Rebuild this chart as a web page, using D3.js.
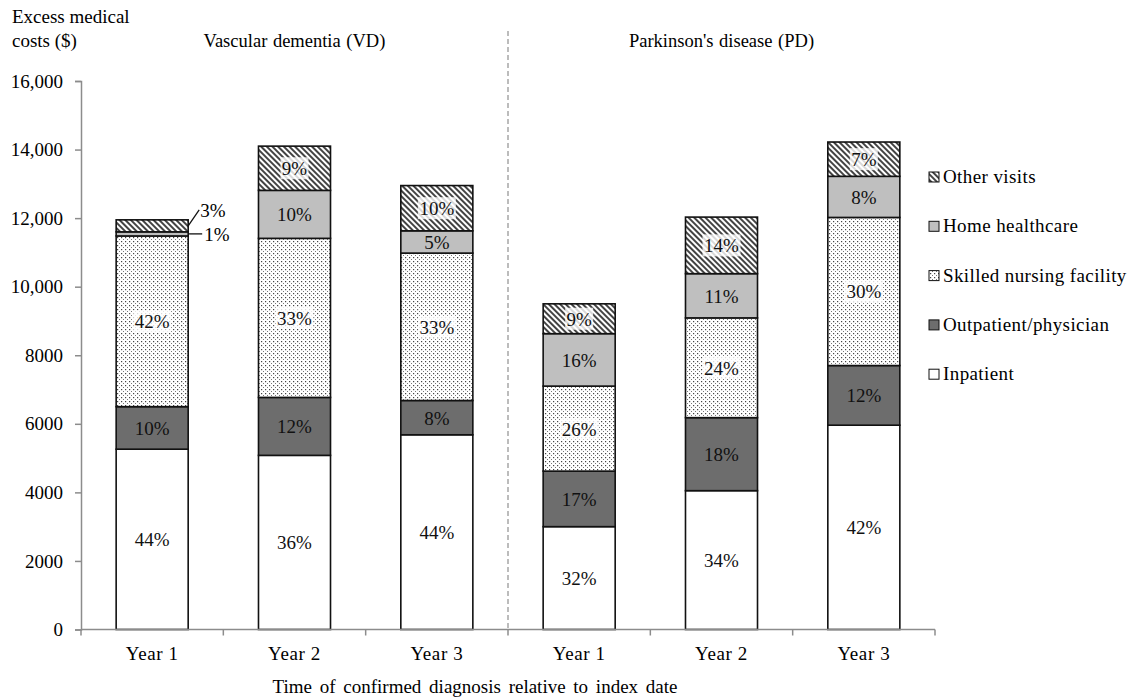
<!DOCTYPE html>
<html>
<head>
<meta charset="utf-8">
<script src="https://cdn.jsdelivr.net/npm/d3@7"></script>
<style>
  html, body { margin: 0; padding: 0; background: #fff; }
  svg { display: block; font-family: "Liberation Serif", "Times New Roman", serif; }
</style>
</head>
<body>
<svg id="chart" width="1131" height="698"></svg>
<script>
// Excess medical costs by year since diagnosis, split by cost component
const yearLabels = ["Year 1", "Year 2", "Year 3", "Year 1", "Year 2", "Year 3"];
const groupTitles = ["Vascular dementia (VD)", "Parkinson's disease (PD)"];
const seriesNames = ["Inpatient", "Outpatient/physician", "Skilled nursing facility", "Home healthcare", "Other visits"];

// Dollar amounts per component (VD Y1..Y3, PD Y1..Y3)
const inpatient      = [5260, 5080, 5680, 3000, 4050, 5960];
const outpatient     = [1240, 1690, 1000, 1620, 2130, 1740];
const skilledNursing = [4980, 4640, 4300, 2480, 2910, 4320];
const homeHealth     = [120, 1400, 650, 1530, 1290, 1200];
const otherVisits    = [350, 1290, 1320, 870, 1650, 1000];

const yTicks = [0, 2000, 4000, 6000, 8000, 10000, 12000, 14000, 16000];

const svg = d3.select("#chart");
const margin = { left: 81, right: 196, top: 81, bottom: 69 };
const W = 1131, H = 698;
const FS = 19;

const rows = yearLabels.map((lab, i) => ({
  key: i, label: lab,
  "Inpatient": inpatient[i],
  "Outpatient/physician": outpatient[i],
  "Skilled nursing facility": skilledNursing[i],
  "Home healthcare": homeHealth[i],
  "Other visits": otherVisits[i]
}));
const totals = rows.map(r => seriesNames.reduce((s, k) => s + r[k], 0));

const x = d3.scaleBand()
  .domain(rows.map(r => r.key))
  .range([margin.left, W - margin.right])
  .paddingInner(0.494)
  .paddingOuter(0.247);

const y = d3.scaleLinear().domain([0, 16000]).range([H - margin.bottom + 0.5, margin.top]);

// Fill patterns
const defs = svg.append("defs");
const dots = defs.append("pattern").attr("id", "dots")
  .attr("patternUnits", "userSpaceOnUse").attr("width", 4).attr("height", 4);
dots.append("rect").attr("width", 4).attr("height", 4).attr("fill", "#fff");
dots.append("rect").attr("x", 1).attr("y", 1).attr("width", 1.2).attr("height", 1.2).attr("fill", "#444");
dots.append("rect").attr("x", 3).attr("y", 3).attr("width", 1.0).attr("height", 1.0).attr("fill", "#777");

const hatch = defs.append("pattern").attr("id", "hatch")
  .attr("patternUnits", "userSpaceOnUse").attr("width", 4).attr("height", 4)
  .attr("patternTransform", "rotate(-45)");
hatch.append("rect").attr("width", 4).attr("height", 4).attr("fill", "#fff");
hatch.append("line").attr("x1", 1).attr("y1", 0).attr("x2", 1).attr("y2", 4)
  .attr("stroke", "#222").attr("stroke-width", 1.7);

const fills = {
  "Inpatient": "#ffffff",
  "Outpatient/physician": "#6d6d6d",
  "Skilled nursing facility": "url(#dots)",
  "Home healthcare": "#bfbfbf",
  "Other visits": "url(#hatch)"
};

// Axes
const axisColor = "#8c8c8c";
const yAxis = svg.append("g").attr("transform", `translate(${margin.left},0)`)
  .call(d3.axisLeft(y).tickValues(yTicks).tickSize(6).tickPadding(12)
    .tickFormat(d => d >= 10000 ? d3.format(",")(d) : String(d)));
yAxis.select(".domain").attr("stroke", axisColor).attr("stroke-width", 1.5);
yAxis.selectAll(".tick line").attr("stroke", axisColor).attr("stroke-width", 1.5);
yAxis.selectAll(".tick text").attr("font-size", FS).attr("fill", "#000")
  .attr("font-family", "Liberation Serif");

const stack = d3.stack().keys(seriesNames);
const layers = stack(rows);

const barG = svg.append("g");
layers.forEach(layer => {
  barG.selectAll(null).data(layer).enter().append("rect")
    .attr("x", d => x(d.data.key))
    .attr("width", x.bandwidth())
    .attr("y", d => y(d[1]))
    .attr("height", d => y(d[0]) - y(d[1]))
    .attr("fill", fills[layer.key])
    .attr("stroke", "#111")
    .attr("stroke-width", 1.6);
});

// X axis line with ticks at band boundaries
const x0 = margin.left, x1 = W - margin.right;
const baseY = y(0);
svg.append("line").attr("x1", x0).attr("x2", x1).attr("y1", baseY).attr("y2", baseY)
  .attr("stroke", axisColor).attr("stroke-width", 1.5);
const step = x.step();
d3.range(7).forEach(i => {
  const tx = x0 + i * step;
  svg.append("line").attr("x1", tx).attr("x2", tx).attr("y1", baseY).attr("y2", baseY + 6)
    .attr("stroke", axisColor).attr("stroke-width", 1.5);
});
svg.append("g").selectAll("text").data(rows).enter().append("text")
  .attr("x", d => x(d.key) + x.bandwidth() / 2)
  .attr("y", baseY + 30)
  .attr("text-anchor", "middle")
  .attr("font-size", FS)
  .attr("letter-spacing", 0.6)
  .text(d => d.label);

// Divider between the two diseases
svg.append("line").attr("x1", x0 + 3 * step).attr("x2", x0 + 3 * step)
  .attr("y1", 31).attr("y2", baseY)
  .attr("stroke", "#999").attr("stroke-width", 1.3).attr("stroke-dasharray", "5,3");

// Percent labels
const labelG = svg.append("g");
layers.forEach(layer => {
  layer.forEach(d => {
    const i = d.data.key;
    const val = d[1] - d[0];
    const pct = Math.round(val / totals[i] * 100);
    const h = y(d[0]) - y(d[1]);
    const cx = x(i) + x.bandwidth() / 2;
    if (h < 16) return;
    const cy = (y(d[0]) + y(d[1])) / 2;
    if (layer.key === "Skilled nursing facility" || layer.key === "Other visits") {
      const bw = pct >= 10 ? 38 : 28;
      labelG.append("rect").attr("x", cx - bw / 2).attr("y", cy - 11)
        .attr("width", bw).attr("height", 22).attr("fill", "#fff").attr("opacity", 0.8);
    }
    labelG.append("text").attr("x", cx).attr("y", cy + 7)
      .attr("text-anchor", "middle").attr("font-size", FS).attr("fill", "#111")
      .text(pct + "%");
  });
});

// Callouts for the thin segments at the top of VD Year 1
const i0 = 0;
const right0 = x(i0) + x.bandwidth();
const otherMid = y((layers[3][i0][1] + layers[4][i0][1]) / 2);
const hhMid = y((layers[3][i0][0] + layers[3][i0][1]) / 2);
svg.append("line").attr("x1", right0).attr("y1", otherMid).attr("x2", right0 + 11).attr("y2", otherMid - 16)
  .attr("stroke", "#111").attr("stroke-width", 1.3);
svg.append("text").attr("x", right0 + 12).attr("y", otherMid - 9).attr("font-size", FS)
  .text(Math.round(otherVisits[i0] / totals[i0] * 100) + "%");
svg.append("line").attr("x1", right0).attr("y1", hhMid).attr("x2", right0 + 14).attr("y2", hhMid)
  .attr("stroke", "#111").attr("stroke-width", 1.3);
svg.append("text").attr("x", right0 + 16).attr("y", hhMid + 7).attr("font-size", FS)
  .text(Math.round(homeHealth[i0] / totals[i0] * 100) + "%");

// Group titles
groupTitles.forEach((t, g) => {
  const cx = x0 + (g * 3 + 1.5) * step;
  svg.append("text").attr("x", cx).attr("y", 47).attr("text-anchor", "middle")
    .attr("font-size", 18.5).attr("word-spacing", 1).text(t);
});

// Y axis title
const yt = svg.append("text").attr("x", 12).attr("font-size", FS);
yt.append("tspan").attr("x", 12).attr("y", 23).text("Excess medical");
yt.append("tspan").attr("x", 12).attr("y", 47).text("costs ($)");

// X axis title
svg.append("text").attr("x", 475).attr("y", 693).attr("text-anchor", "middle")
  .attr("font-size", FS).attr("word-spacing", 3)
  .text("Time of confirmed diagnosis relative to index date");

// Legend (top entry = top of stack)
const legendItems = seriesNames.slice().reverse();
const lg = svg.append("g").attr("transform", "translate(929,0)");
legendItems.forEach((name, k) => {
  const cy = 177 + k * 49.3;
  lg.append("rect").attr("x", 0).attr("y", cy - 5).attr("width", 10).attr("height", 10)
    .attr("fill", fills[name]).attr("stroke", "#111").attr("stroke-width", 1);
  lg.append("text").attr("x", 14).attr("y", cy + 6).attr("font-size", FS)
    .attr("letter-spacing", 0.4).text(name);
});
</script>
</body>
</html>
